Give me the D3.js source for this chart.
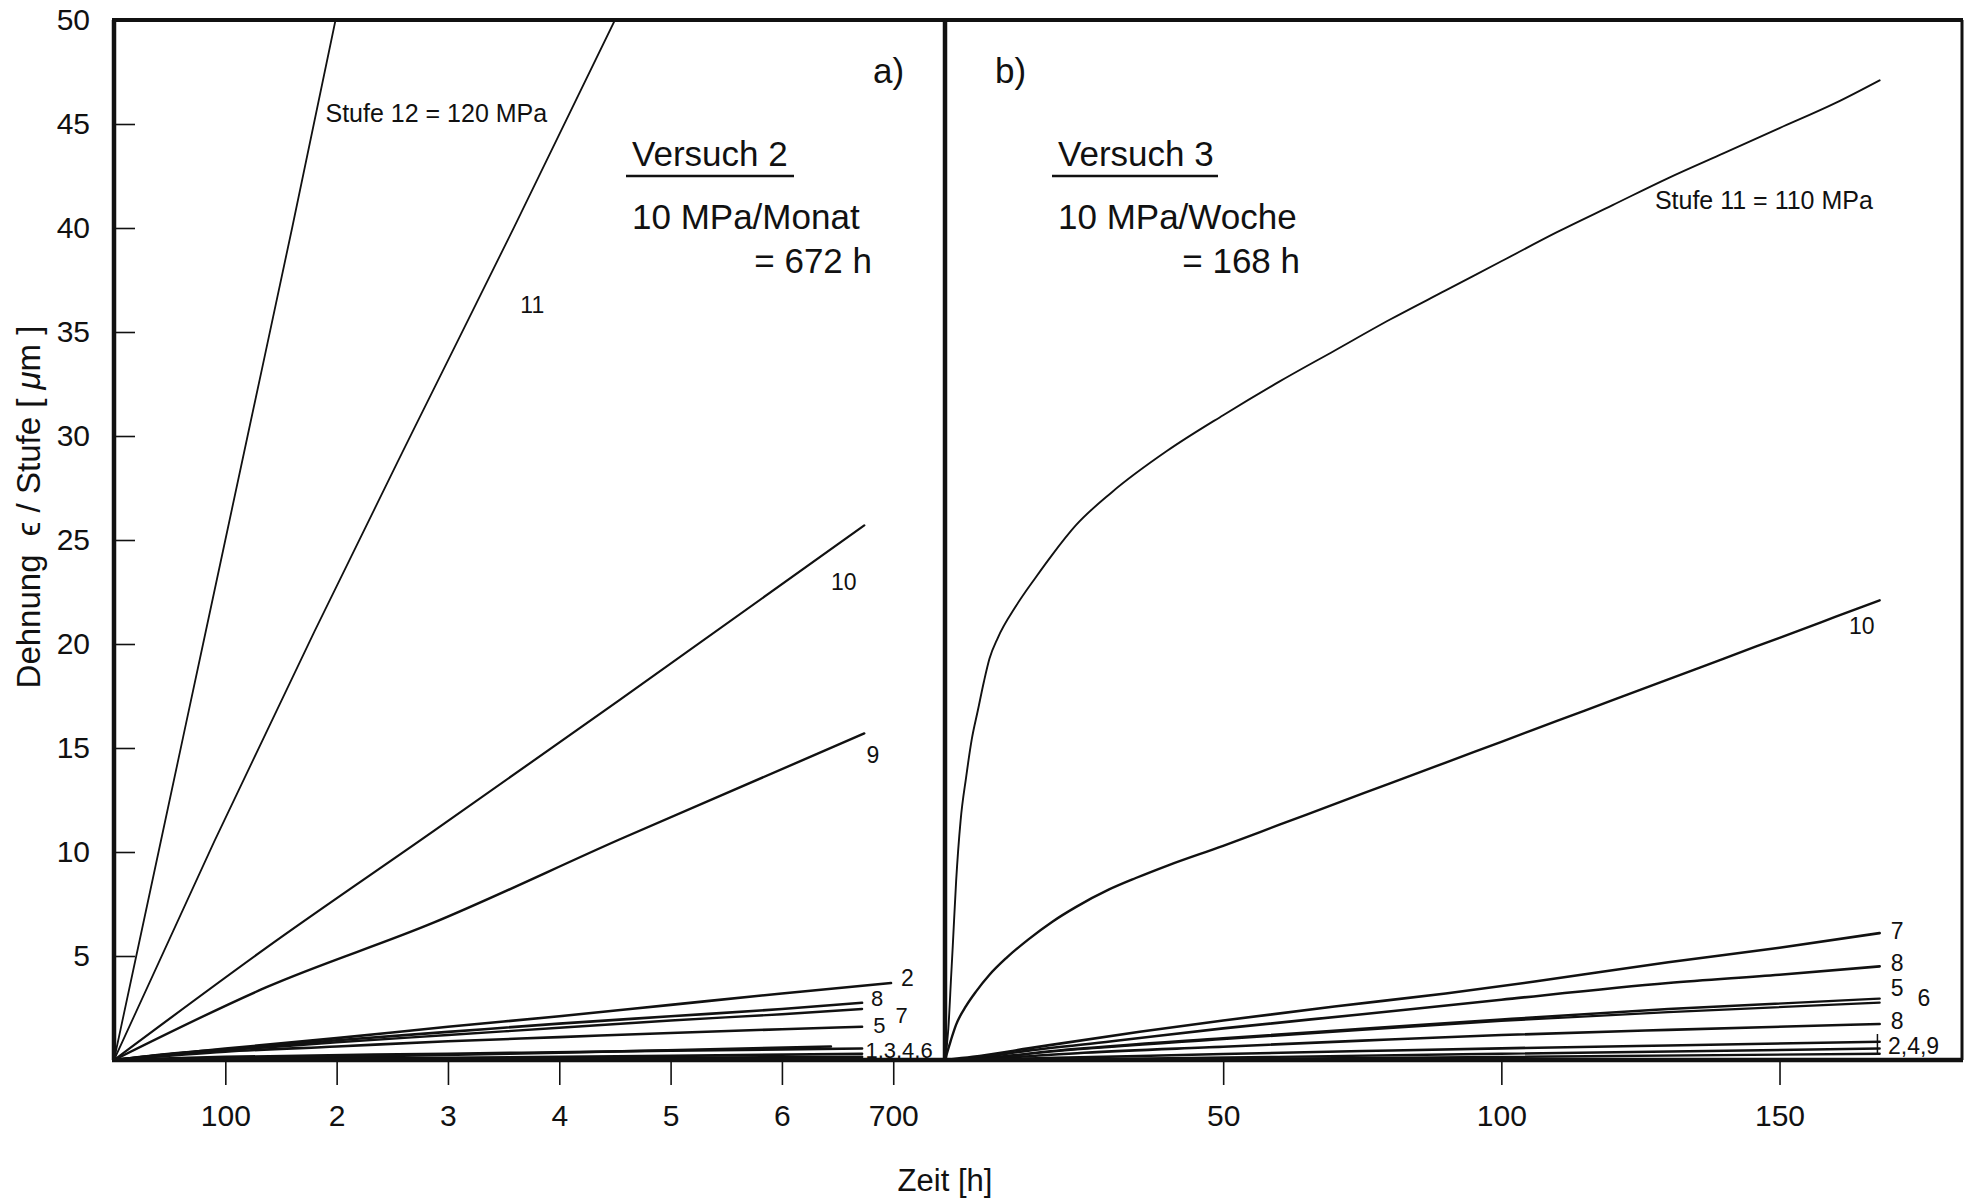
<!DOCTYPE html>
<html>
<head>
<meta charset="utf-8">
<script src="https://cdn.jsdelivr.net/npm/d3@7"></script>
<style>
  html, body { margin: 0; padding: 0; background: #fff; }
  svg { display: block; }
  text { font-family: "Liberation Sans", Arial, Helvetica, sans-serif; fill: #111; white-space: pre; }
</style>
</head>
<body>
<svg id="chart" width="1975" height="1201"></svg>
<script>
// ---------------- DATA ----------------
const leftTicks = [100, 200, 300, 400, 500, 600, 700];
const leftTickLabels = ["100", "2", "3", "4", "5", "6", "700"];
const rightTicks = [50, 100, 150];
const rightTickLabels = ["50", "100", "150"];
const yTicks = [5, 10, 15, 20, 25, 30, 35, 40, 45, 50];

// Panel a) Versuch 2 : [time h, strain µm]
const a_stufe12 = [[0,0],[40,10],[80,20],[120,30],[160,40],[199,50]];
const a_stufe11 = [[0,0],[90,10.5],[180,20.6],[270,30.4],[360,40.1],[450,50]];
const a_stufe10 = [[0,0],[137,5.4],[287,11.0],[454,17.3],[674,25.7]];
const a_stufe9  = [[0,0],[137,3.5],[287,6.6],[454,10.6],[674,15.7]];
const a_stufe2  = [[0,0],[100,0.55],[200,1.05],[300,1.6],[400,2.1],[500,2.65],[600,3.2],[698,3.7]];
const a_stufe8  = [[0,0],[50,0.3],[136,0.65],[200,0.95],[300,1.35],[400,1.75],[500,2.1],[600,2.45],[672,2.75]];
const a_stufe7  = [[0,0],[50,0.28],[136,0.6],[200,0.85],[300,1.2],[400,1.55],[500,1.9],[600,2.2],[672,2.45]];
const a_stufe5  = [[0,0],[100,0.4],[200,0.65],[300,0.9],[400,1.1],[500,1.3],[600,1.48],[672,1.6]];
const a_stufe1  = [[0,0],[100,0.15],[300,0.3],[500,0.45],[672,0.55]];
const a_stufe3  = [[0,0],[200,0.15],[400,0.35],[644,0.65]];
const a_stufe4  = [[0,0],[300,0.1],[500,0.2],[672,0.3]];
const a_stufe6  = [[0,0],[400,0.08],[672,0.15]];

// Panel b) Versuch 3
const b_stufe11 = [[0,0],[0.6,1.5],[1.1,4],[1.4,5.5],[2.0,8.6],[2.8,11.5],[3.8,13.6],[4.8,15.4],[5.9,16.8],[7.0,18.2],[8.0,19.3],[9.5,20.3],[12.7,21.8],[16.3,23.2],[19.3,24.3],[23.5,25.7],[30,27.3],[40,29.3],[50,31.0],[60,32.6],[70,34.1],[80,35.6],[90,37.0],[100,38.4],[110,39.8],[120,41.1],[130,42.4],[140,43.6],[150,44.8],[160,46.0],[168,47.1]];
const b_stufe10 = [[0,0],[1,0.9],[2,1.7],[3.8,2.6],[5.6,3.3],[8,4.1],[11,4.9],[15,5.8],[19.3,6.65],[23.5,7.35],[29.5,8.2],[34.3,8.75],[40,9.35],[50,10.3],[60,11.3],[70,12.3],[80,13.3],[90,14.3],[100,15.3],[110,16.3],[120,17.3],[130,18.3],[140,19.3],[150,20.3],[160,21.3],[168,22.1]];
const b_stufe7  = [[0,0],[5,0.15],[15,0.56],[35,1.36],[50,1.9],[70,2.57],[90,3.2],[106,3.77],[130,4.7],[150,5.4],[168,6.1]];
const b_stufe8  = [[0,0],[5,0.1],[15,0.45],[30,0.9],[50,1.52],[75,2.2],[100,2.9],[130,3.7],[150,4.1],[168,4.5]];
const b_stufe5  = [[0,0],[5,0.05],[20,0.45],[50,1.05],[75,1.5],[100,1.95],[130,2.45],[168,2.95]];
const b_stufe6  = [[0,0],[5,0.05],[20,0.42],[50,1.0],[75,1.45],[100,1.88],[130,2.3],[168,2.76]];
const b_stufe3  = [[0,0],[10,0.1],[25,0.35],[50,0.64],[75,0.93],[100,1.2],[130,1.45],[168,1.73]];
const b_stufe2  = [[0,0],[20,0.1],[50,0.29],[75,0.43],[100,0.56],[130,0.7],[168,0.88]];
const b_stufe4  = [[0,0],[30,0.05],[60,0.15],[100,0.3],[168,0.55]];
const b_stufe9  = [[0,0],[50,0.05],[100,0.15],[168,0.3]];

// Label texts (anchored in data units)
const leftLabels  = [
  {t:"Stufe 12 = 120 MPa", h:190, v:45.1, s:25},
  {t:"11", h:365, v:35.9, s:23},
  {t:"10", h:644, v:22.6, s:23},
  {t:"9",  h:676, v:14.3, s:23},
  {t:"2",  h:707, v:3.56, s:23},
  {t:"8",  h:680, v:2.62, s:22},
  {t:"7",  h:702, v:1.8, s:22},
  {t:"5",  h:682, v:1.32, s:22},
  {t:"1,3,4,6", h:675, v:0.12, s:22}
];
const rightLabels = [
  {t:"Stufe 11 = 110 MPa", h:127.6, v:40.9, s:25},
  {t:"10", h:162.5, v:20.5, s:23},
  {t:"7",  h:170, v:5.8, s:23},
  {t:"8",  h:170, v:4.3, s:23},
  {t:"5",  h:170, v:3.1, s:23},
  {t:"6",  h:174.8, v:2.6, s:23},
  {t:"8",  h:170, v:1.5, s:23},
  {t:"2,4,9", h:169.5, v:0.3, s:23}
];

// ---------------- CHART ----------------
const svg = d3.select("#chart");
const W = 1975, H = 1201;
svg.append("rect").attr("width", W).attr("height", H).attr("fill", "#fff");

const y = d3.scaleLinear().domain([0, 50]).range([1060, 20]);
const xA = d3.scaleLinear().domain([0, 746.5]).range([114, 945]);
const xB = d3.scaleLinear().domain([0, 182.8]).range([945, 1962]);

const defs = svg.append("defs");
defs.append("clipPath").attr("id", "clipA").append("rect")
  .attr("x", xA.range()[0]).attr("y", y(50)).attr("width", xA.range()[1] - xA.range()[0]).attr("height", y(0) - y(50));
defs.append("clipPath").attr("id", "clipB").append("rect")
  .attr("x", xB.range()[0]).attr("y", y(50)).attr("width", xB.range()[1] - xB.range()[0]).attr("height", y(0) - y(50));

function drawSeries(g, x, data, width) {
  const line = d3.line().x(d => x(d[0])).y(d => y(d[1])).curve(d3.curveMonotoneX);
  g.append("path").attr("d", line(data)).attr("fill", "none")
    .attr("stroke", "#111").attr("stroke-width", width)
    .attr("stroke-linejoin", "round").attr("stroke-linecap", "round");
}

const gA = svg.append("g").attr("clip-path", "url(#clipA)");
[[a_stufe12,1.8],[a_stufe11,1.8],[a_stufe10,2.2],[a_stufe9,2.4],
 [a_stufe2,2.6],[a_stufe8,2.6],[a_stufe7,2.4],[a_stufe5,2.6],
 [a_stufe1,2.6],[a_stufe3,2.6],[a_stufe4,2.6],[a_stufe6,2.6]].forEach(s => drawSeries(gA, xA, s[0], s[1]));

const gB = svg.append("g").attr("clip-path", "url(#clipB)");
[[b_stufe11,1.9],[b_stufe10,2.4],[b_stufe7,2.6],[b_stufe8,2.6],[b_stufe5,2.4],
 [b_stufe6,2.2],[b_stufe3,2.6],[b_stufe2,2.6],[b_stufe4,2.4],[b_stufe9,2.4]].forEach(s => drawSeries(gB, xB, s[0], s[1]));

// small end marker at curve 2,4,9
svg.append("line").attr("x1", xB(167.6)).attr("x2", xB(167.6))
  .attr("y1", y(1.25)).attr("y2", y(0.3)).attr("stroke", "#111").attr("stroke-width", 1.5);

// Axes
const axA = d3.axisBottom(xA).tickValues(leftTicks)
  .tickFormat((d, i) => leftTickLabels[i]).tickSizeInner(25).tickSizeOuter(0).tickPadding(20);
const axB = d3.axisBottom(xB).tickValues(rightTicks)
  .tickFormat((d, i) => rightTickLabels[i]).tickSizeInner(25).tickSizeOuter(0).tickPadding(20);
const axY = d3.axisLeft(y).tickValues(yTicks).tickFormat(d => String(d))
  .tickSizeInner(-21).tickSizeOuter(0).tickPadding(24);

function styleAxis(g) {
  g.select(".domain").remove();
  g.selectAll(".tick line").attr("stroke", "#111").attr("stroke-width", 1.6);
  g.selectAll(".tick text").attr("font-size", 30).attr("fill", "#111")
    .attr("font-family", "'Liberation Sans', Arial, sans-serif");
}
svg.append("g").attr("transform", `translate(0,${y(0)})`).call(axA).call(styleAxis);
svg.append("g").attr("transform", `translate(0,${y(0)})`).call(axB).call(styleAxis);
svg.append("g").attr("transform", `translate(${xA(0)},0)`).call(axY).call(styleAxis);

// Frame
const frame = svg.append("g").attr("stroke", "#111").attr("fill", "none");
frame.append("line").attr("x1", xA(0) - 2).attr("x2", xB.range()[1] + 1).attr("y1", y(50)).attr("y2", y(50)).attr("stroke-width", 4);
frame.append("line").attr("x1", xA(0) - 2).attr("x2", xB.range()[1] + 1).attr("y1", y(0)).attr("y2", y(0)).attr("stroke-width", 4.5);
frame.append("line").attr("x1", xA(0)).attr("x2", xA(0)).attr("y1", y(50)).attr("y2", y(0)).attr("stroke-width", 4.5);
frame.append("line").attr("x1", xB(0)).attr("x2", xB(0)).attr("y1", y(50)).attr("y2", y(0)).attr("stroke-width", 4.5);
frame.append("line").attr("x1", xB.range()[1]).attr("x2", xB.range()[1]).attr("y1", y(50)).attr("y2", y(0)).attr("stroke-width", 3);

// Axis titles
const yt = svg.append("text").attr("transform", `translate(40,507) rotate(-90)`)
  .attr("text-anchor", "middle").attr("font-size", 33);
yt.append("tspan").text("Dehnung  \u03F5 / Stufe [ ");
yt.append("tspan").attr("font-style", "italic").text("\u03BC");
yt.append("tspan").text("m ]");
svg.append("text").attr("x", 945).attr("y", 1191).attr("text-anchor", "middle")
  .attr("font-size", 31).text("Zeit [h]");

// Curve labels
const lab = svg.append("g");
leftLabels.forEach(d => lab.append("text").attr("x", xA(d.h)).attr("y", y(d.v)).attr("font-size", d.s).text(d.t));
rightLabels.forEach(d => lab.append("text").attr("x", xB(d.h)).attr("y", y(d.v)).attr("font-size", d.s).text(d.t));

// Panel annotations
const ann = svg.append("g").attr("font-size", 35);
ann.append("text").attr("x", 873).attr("y", 83).text("a)");
ann.append("text").attr("x", 632).attr("y", 166).text("Versuch 2");
ann.append("line").attr("x1", 626).attr("x2", 794).attr("y1", 176).attr("y2", 176).attr("stroke", "#111").attr("stroke-width", 2.5);
ann.append("text").attr("x", 632).attr("y", 229).text("10 MPa/Monat");
ann.append("text").attr("x", 872).attr("y", 273).attr("text-anchor", "end").text("= 672 h");

ann.append("text").attr("x", 995).attr("y", 83).text("b)");
ann.append("text").attr("x", 1058).attr("y", 166).text("Versuch 3");
ann.append("line").attr("x1", 1052).attr("x2", 1218).attr("y1", 176).attr("y2", 176).attr("stroke", "#111").attr("stroke-width", 2.5);
ann.append("text").attr("x", 1058).attr("y", 229).text("10 MPa/Woche");
ann.append("text").attr("x", 1300).attr("y", 273).attr("text-anchor", "end").text("= 168 h");
</script>
</body>
</html>
